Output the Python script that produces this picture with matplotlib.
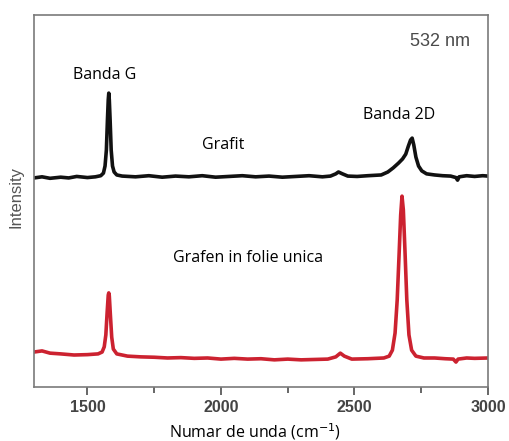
import matplotlib
matplotlib.use("Agg")
import matplotlib.pyplot as plt
from matplotlib.ticker import MultipleLocator

# Raman spectra (wavenumber in cm^-1, intensity in arbitrary units)
graphite_x = [1300, 1330, 1360, 1400, 1430, 1460, 1500, 1530, 1550, 1560, 1566,
              1571, 1575, 1578, 1580, 1582, 1585, 1589, 1594, 1600, 1610, 1630,
              1680, 1730, 1780, 1830, 1880, 1930, 1980, 2030, 2080, 2130, 2180,
              2230, 2280, 2330, 2380, 2410, 2430, 2440, 2455, 2475, 2510, 2550,
              2600, 2625, 2645, 2665, 2680, 2692, 2702, 2710, 2716, 2722, 2730,
              2740, 2752, 2770, 2800, 2830, 2860, 2880, 2886, 2892, 2920, 2950,
              2980, 3000]
graphite_y = [56.2, 56.5, 56.1, 56.4, 56.2, 56.6, 56.3, 56.5, 56.8, 57.5, 59.4,
              63.7, 71.8, 77.2, 79.0, 77.2, 71.8, 63.7, 59.4, 57.8, 57.0, 56.7,
              56.5, 56.8, 56.4, 56.7, 56.5, 56.8, 56.4, 56.6, 56.8, 56.5, 56.7,
              56.4, 56.6, 56.8, 56.5, 56.7, 57.3, 57.8, 57.3, 56.7, 56.6, 56.8,
              57.0, 57.8, 58.9, 60.2, 61.3, 62.6, 64.8, 66.4, 66.9, 65.1, 61.8,
              59.4, 58.1, 57.3, 57.0, 56.8, 56.7, 56.3, 55.6, 56.5, 56.8, 56.6,
              56.8, 56.7]

graphene_x = [1300, 1330, 1360, 1400, 1450, 1500, 1540, 1555, 1563, 1569, 1574,
              1578, 1580, 1582, 1586, 1591, 1597, 1610, 1650, 1700, 1750, 1800,
              1850, 1900, 1950, 2000, 2050, 2100, 2150, 2200, 2250, 2300, 2350,
              2400, 2430, 2447, 2462, 2490, 2550, 2610, 2630, 2642, 2652, 2660,
              2667, 2673, 2678, 2683, 2689, 2696, 2704, 2714, 2730, 2760, 2800,
              2840, 2870, 2880, 2888, 2920, 2950, 3000]
graphene_y = [9.4, 9.7, 9.1, 8.9, 8.6, 8.7, 8.9, 9.4, 10.8, 14.0, 20.2,
              24.7, 25.3, 24.5, 19.4, 13.4, 10.2, 8.9, 8.3, 8.1, 8.0, 7.8,
              7.9, 7.7, 7.8, 7.5, 7.7, 7.5, 7.6, 7.3, 7.5, 7.3, 7.4,
              7.5, 8.1, 9.1, 8.3, 7.5, 7.6, 7.8, 8.3, 9.9, 14.5, 23.4,
              35.5, 46.2, 51.3, 47.6, 36.8, 23.4, 14.0, 9.9, 8.3, 7.8, 7.8,
              7.6, 7.5, 6.7, 7.5, 7.8, 7.7, 7.8]

x_ticks = [1500, 2000, 2500, 3000]

fig = plt.figure(figsize=(5.10, 4.41), dpi=100)
ax = fig.add_axes([34 / 510, 54 / 441, 454 / 510, 372 / 441])

ax.plot(graphite_x, graphite_y, color="#111111", lw=2.6, solid_joinstyle="round")
ax.plot(graphene_x, graphene_y, color="#cc2230", lw=2.6, solid_joinstyle="round")

ax.set_xlim(1300, 3000)
ax.set_ylim(0, 100)
ax.set_xticks(x_ticks)
ax.xaxis.set_minor_locator(MultipleLocator(250))
ax.set_yticks([])
ax.tick_params(axis="x", which="major", direction="out", length=6, width=1.4,
               color="#666666", labelsize=11.5, labelcolor="#444444", pad=3)
ax.tick_params(axis="x", which="minor", direction="out", length=4, width=1.4,
               color="#666666")
for lab in ax.get_xticklabels():
    lab.set_family("Liberation Sans")
    lab.set_fontweight("bold")
for sp in ax.spines.values():
    sp.set_color("#7a7a7a")
    sp.set_linewidth(1.2)

lbl = dict(family="Open Sans", fontsize=11.5, color="black", ha="center", va="center")
fig.text(105 / 510, 1 - 75 / 441, "Banda G", **lbl)
fig.text(223 / 510, 1 - 145 / 441, "Grafit", **lbl)
fig.text(399 / 510, 1 - 115 / 441, "Banda 2D", **lbl)
fig.text(248 / 510, 1 - 258 / 441, "Grafen in folie unica", **lbl)
fig.text(255 / 510, 1 - 432 / 441, "Numar de unda (cm$^{-1}$)", **lbl)
fig.text(440 / 510, 1 - 42 / 441, "532 nm", family="Liberation Sans",
         fontsize=13, color="#4a4a4a", ha="center", va="center")
fig.text(16 / 510, 1 - 197 / 441, "Intensity", family="Liberation Sans",
         fontsize=12, color="#555555", ha="center", va="center", rotation=90)

fig.savefig("out.png", dpi=100)
